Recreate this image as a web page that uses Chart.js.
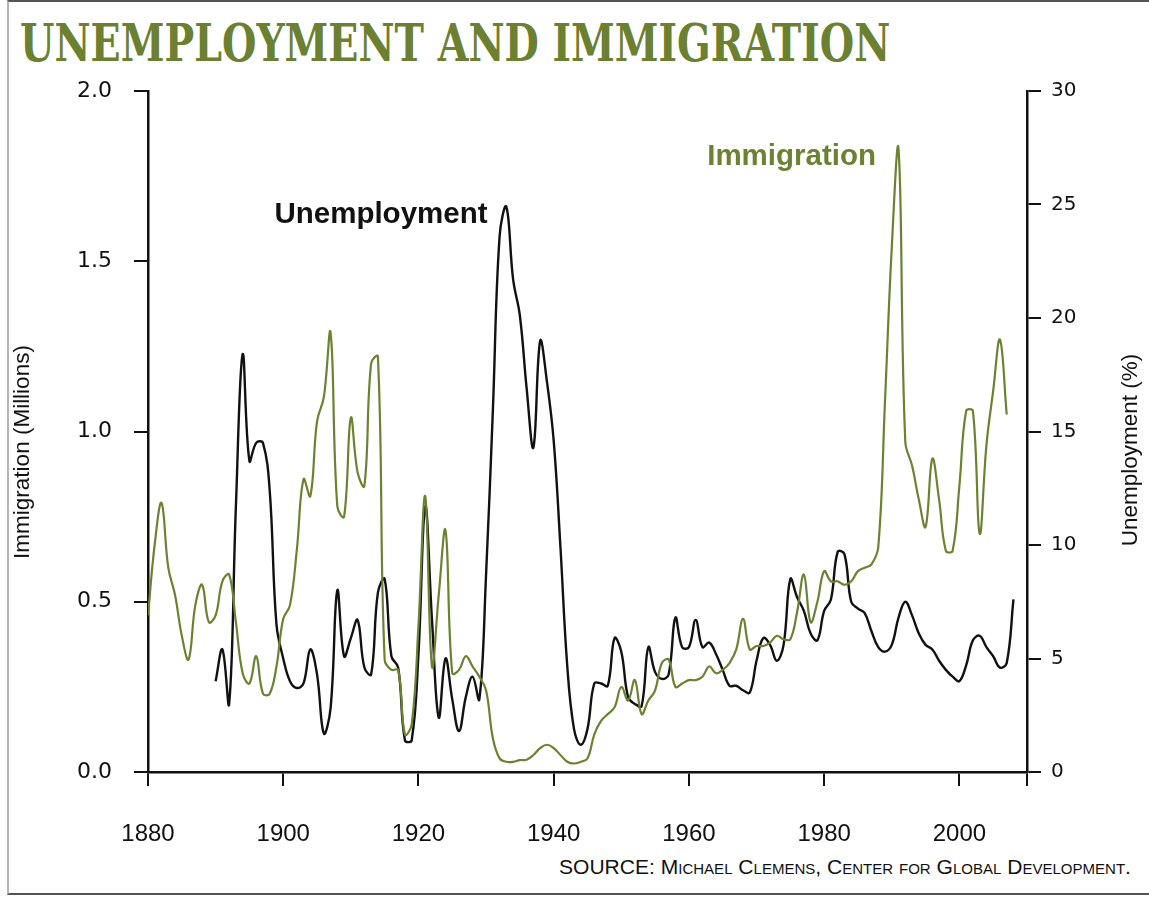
<!DOCTYPE html>
<html>
<head>
<meta charset="utf-8">
<script src="https://cdn.jsdelivr.net/npm/chart.js@4.4.0/dist/chart.umd.min.js"></script>
<style>
  html, body { margin: 0; padding: 0; background: #fff; }
  #frame { position: absolute; left: 7px; top: 0; width: 1142px; height: 895px; box-sizing: border-box;
           border-top: 2px solid #555; border-bottom: 2px solid #555; border-left: 2px solid #b4b4b4; }
  #title { position: absolute; left: 20px; top: 12px; white-space: nowrap; transform-origin: left top;
           font-family: 'DejaVu Serif', serif; font-weight: bold; font-stretch: condensed;
           font-size: 52px; color: #6b8030; }
  #source { position: absolute; top: 855px; right: 18px; white-space: nowrap; transform-origin: right top;
            font-family: 'Liberation Sans Narrow', 'Liberation Sans', sans-serif; font-variant: small-caps;
            font-size: 21px; color: #111; }
  #chart { position: absolute; left: 0; top: 0; }
</style>
</head>
<body>
<div id="frame"></div>
<div id="title">UNEMPLOYMENT AND IMMIGRATION</div>
<div id="source">SOURCE: Michael Clemens, Center for Global Development.</div>
<canvas id="chart" width="1149" height="897"></canvas>
<script>
// immigration, millions per year, 1880-2007
const immStart = 1880;
const immigration = [
  0.46, 0.67, 0.79, 0.60, 0.52, 0.40, 0.33, 0.49, 0.55, 0.44,
  0.46, 0.56, 0.58, 0.44, 0.29, 0.26, 0.34, 0.23, 0.23, 0.31,
  0.45, 0.49, 0.65, 0.86, 0.81, 1.03, 1.10, 1.29, 0.78, 0.75,
  1.04, 0.88, 0.84, 1.20, 1.22, 0.33, 0.30, 0.30, 0.11, 0.14,
  0.43, 0.81, 0.31, 0.52, 0.71, 0.29, 0.30, 0.34, 0.31, 0.28,
  0.24, 0.10, 0.04, 0.03, 0.03, 0.035, 0.036, 0.05, 0.07, 0.08,
  0.07, 0.05, 0.03, 0.025, 0.03, 0.04, 0.11, 0.15, 0.17, 0.19,
  0.25, 0.21, 0.27, 0.17, 0.21, 0.24, 0.32, 0.33, 0.25, 0.26,
  0.27, 0.27, 0.28, 0.31, 0.29, 0.30, 0.32, 0.36, 0.45, 0.36,
  0.37, 0.37, 0.38, 0.40, 0.39, 0.39, 0.47, 0.58, 0.44, 0.50,
  0.59, 0.56, 0.56, 0.55, 0.56, 0.59, 0.60, 0.61, 0.66, 1.09,
  1.54, 1.83, 0.97, 0.90, 0.80, 0.72, 0.92, 0.80, 0.65, 0.65,
  0.84, 1.06, 1.06, 0.70, 0.96, 1.12, 1.27, 1.05
];

// unemployment rate, %, 1890-2008
const unempStart = 1890;
const unemployment = [
  4.0, 5.4, 3.0, 11.7, 18.4, 13.7, 14.5, 14.5, 12.4, 6.5,
  5.0, 4.0, 3.7, 3.9, 5.4, 4.3, 1.7, 2.8, 8.0, 5.1,
  5.9, 6.7, 4.6, 4.3, 7.9, 8.5, 5.1, 4.6, 1.4, 1.4,
  5.2, 11.7, 6.7, 2.4, 5.0, 3.2, 1.8, 3.3, 4.2, 3.2,
  8.7, 15.9, 23.6, 24.9, 21.7, 20.1, 16.9, 14.3, 19.0, 17.2,
  14.6, 9.9, 4.7, 1.9, 1.2, 1.9, 3.9, 3.9, 3.8, 5.9,
  5.3, 3.3, 3.0, 2.9, 5.5, 4.4, 4.1, 4.3, 6.8, 5.5,
  5.5, 6.7, 5.5, 5.7, 5.2, 4.5, 3.8, 3.8, 3.6, 3.5,
  4.9, 5.9, 5.6, 4.9, 5.6, 8.5, 7.7, 7.1, 6.1, 5.8,
  7.1, 7.6, 9.7, 9.6, 7.5, 7.2, 7.0, 6.2, 5.5, 5.3,
  5.6, 6.8, 7.5, 6.9, 6.1, 5.6, 5.4, 4.9, 4.5, 4.2,
  4.0, 4.7, 5.8, 6.0, 5.5, 5.1, 4.6, 4.8, 7.6
];

const yearTicks = [1880, 1900, 1920, 1940, 1960, 1980, 2000, 2010];
const immTicks = [0, 0.5, 1.0, 1.5, 2.0];
const unempTicks = [0, 5, 10, 15, 20, 25, 30];

const GREEN = '#6b8232';
const INK = '#111';

// fit the html headings to the widths in the original
function fitWidth(id, w) {
  const el = document.getElementById(id);
  el.style.transform = 'scaleX(' + (w / el.offsetWidth) + ')';
}
fitWidth('title', 870);
fitWidth('source', 572);

function rotatedText(ctx, text, cx, cy) {
  ctx.save();
  ctx.fillStyle = INK;
  ctx.font = '22.5px "Liberation Sans", sans-serif';
  ctx.textAlign = 'center';
  ctx.textBaseline = 'middle';
  ctx.translate(cx, cy);
  ctx.rotate(-Math.PI / 2);
  ctx.fillText(text, 0, 0);
  ctx.restore();
}

const decor = {
  id: 'decor',
  afterDraw(chart) {
    const ctx = chart.ctx;
    const x = chart.scales.x, y = chart.scales.yImm;
    rotatedText(ctx, 'Immigration (Millions)', 23, 452);
    rotatedText(ctx, 'Unemployment (%)', 1131, 450);

    ctx.save();
    ctx.font = 'bold 29.5px "Liberation Sans", sans-serif';
    ctx.textAlign = 'left';
    ctx.textBaseline = 'middle';
    ctx.fillStyle = INK;
    ctx.fillText('Unemployment', x.getPixelForValue(1898.7), y.getPixelForValue(1.636));
    ctx.fillStyle = GREEN;
    ctx.fillText('Immigration', x.getPixelForValue(1962.7), y.getPixelForValue(1.806));
    ctx.restore();
  }
};

new Chart(document.getElementById('chart'), {
  type: 'line',
  data: {
    datasets: [
      {
        label: 'Immigration',
        data: immigration.map((v, i) => ({x: immStart + i, y: v})),
        yAxisID: 'yImm',
        borderColor: GREEN,
        borderWidth: 2.2,
        pointRadius: 0,
        tension: 0.4,
      },
      {
        label: 'Unemployment',
        data: unemployment.map((v, i) => ({x: unempStart + i, y: v})),
        yAxisID: 'yUnemp',
        borderColor: INK,
        borderWidth: 2.4,
        pointRadius: 0,
        tension: 0.4,
      },
    ],
  },
  options: {
    responsive: false,
    animation: false,
    layout: { padding: { top: 91, left: 0, right: 0, bottom: 0 } },
    plugins: { legend: { display: false }, tooltip: { enabled: false } },
    scales: {
      x: {
        type: 'linear',
        min: 1880,
        max: 2010,
        afterBuildTicks: s => { s.ticks = yearTicks.map(v => ({value: v})); },
        afterFit: s => { s.height = 897 - 772; },
        grid: { drawOnChartArea: false, drawTicks: true, tickLength: 14, color: INK, lineWidth: 2 },
        border: { color: INK, width: 2.5 },
        ticks: {
          color: INK,
          padding: 34,
          maxRotation: 0,
          font: { family: 'Liberation Sans', size: 24 },
          callback: v => (v === 2010 ? '' : String(v)),
        },
      },
      yImm: {
        position: 'left',
        min: 0,
        max: 2.0,
        afterBuildTicks: s => { s.ticks = immTicks.map(v => ({value: v})); },
        afterFit: s => { s.width = 148; },
        grid: { drawOnChartArea: false, drawTicks: true, tickLength: 14, color: INK, lineWidth: 2 },
        border: { color: INK, width: 2.5 },
        ticks: {
          color: INK,
          padding: 22,
          font: { family: 'DejaVu Sans', size: 22 },
          callback: v => v.toFixed(1),
        },
      },
      yUnemp: {
        position: 'right',
        min: 0,
        max: 30,
        afterBuildTicks: s => { s.ticks = unempTicks.map(v => ({value: v})); },
        afterFit: s => { s.width = 1149 - 1027; },
        grid: { drawOnChartArea: false, drawTicks: true, tickLength: 14, color: INK, lineWidth: 2 },
        border: { color: INK, width: 2.5 },
        ticks: {
          color: INK,
          padding: 10,
          font: { family: 'DejaVu Sans', size: 20 },
          callback: v => String(v),
        },
      },
    },
  },
  plugins: [decor],
});
</script>
</body>
</html>
